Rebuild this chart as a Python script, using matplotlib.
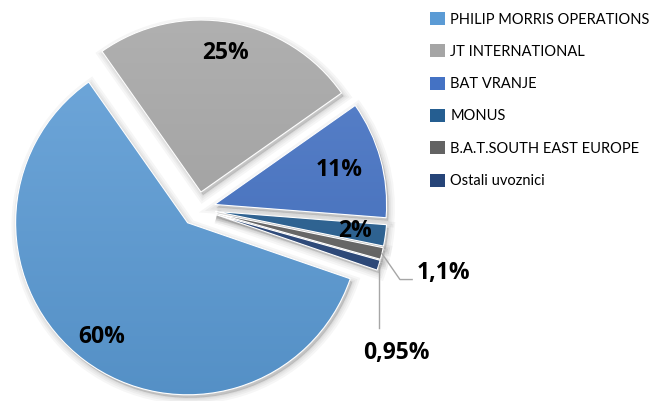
import numpy as np
import matplotlib.pyplot as plt
from matplotlib.colors import to_rgb
from matplotlib.patches import Patch, Wedge

# market share of cigarette producers / importers
companies = ['PHILIP MORRIS OPERATIONS', 'JT INTERNATIONAL', 'BAT VRANJE',
             'MONUS', 'B.A.T.SOUTH EAST EUROPE', 'Ostali uvoznici']
shares = [60, 25, 11, 2, 1.1, 0.95]
colors = ['#5B9BD5', '#A5A5A5', '#4472C4', '#255E91', '#636363', '#264478']

# label placement: radial distance (fraction of radius) for inside labels
inside_dist = [0.83, 0.82, 0.75, 0.82]


def pct_label(v):
    return f"{v:g}".replace('.', ',') + '%'


def shade(c, f):
    c = np.array(to_rgb(c))
    if f > 0:
        return c + (1 - c) * f
    return c * (1 + f)


fig = plt.figure(figsize=(6.59, 4.01), dpi=100)
ax = fig.add_axes([0, 0, 1, 1])

wedges, _ = ax.pie(shares, colors=colors, startangle=-19, counterclock=False,
                   explode=[0.1] * len(shares), radius=1,
                   wedgeprops=dict(edgecolor='white', linewidth=0.8))

# soft shadow + vertical gradient fill for every slice
for w, c in zip(wedges, colors):
    cx, cy = w.center
    r = w.r
    for lw in [9, 6, 3.5, 1.5]:
        ax.add_patch(Wedge((cx + 0.012, cy - 0.018), r, w.theta1, w.theta2,
                           facecolor=(0, 0, 0, 0.035), edgecolor=(0, 0, 0, 0.035),
                           linewidth=lw, zorder=0.5))
    top, bot = shade(c, 0.12), shade(c, -0.07)
    t = np.linspace(0, 1, 128)[:, None]
    grad = (top[None, :] * (1 - t) + bot[None, :] * t)[:, None, :]
    im = ax.imshow(grad, extent=[cx - r, cx + r, cy - r, cy + r], origin='upper',
                   aspect='auto', interpolation='bilinear', zorder=1)
    im.set_clip_path(w)
    w.set_facecolor((0, 0, 0, 0))
    w.set_zorder(2)

lab_font = dict(family='Open Sans', fontweight='bold', fontsize=16.5, color='black')

# labels inside the bigger slices
for w, v, d in zip(wedges[:4], shares[:4], inside_dist):
    mid = np.deg2rad((w.theta1 + w.theta2) / 2)
    cx, cy = w.center
    ax.text(cx + d * np.cos(mid), cy + d * np.sin(mid), pct_label(v),
            ha='center', va='center', zorder=5, **lab_font)


def outer_point(w):
    mid = np.deg2rad((w.theta1 + w.theta2) / 2)
    cx, cy = w.center
    return cx + w.r * np.cos(mid), cy + w.r * np.sin(mid)


# 1,1% with elbow leader
x0, y0 = outer_point(wedges[4])
tx, ty = 1.425, -0.37
ax.plot([x0, 1.174, 1.245], [y0, ty - 0.04, ty - 0.04], color='#A6A6A6', lw=1, zorder=4)
ax.text(tx, ty, pct_label(shares[4]), ha='center', va='center', zorder=5, **lab_font)

# 0,95% with vertical leader
x0, y0 = outer_point(wedges[5])
ax.plot([x0, x0], [y0, -0.69], color='#A6A6A6', lw=1, zorder=4)
ax.text(1.151, -0.835, pct_label(shares[5]), ha='center', va='center', zorder=5, **lab_font)

handles = [Patch(facecolor=c, edgecolor='none') for c in colors]
fig.legend(handles, companies, loc='upper left', bbox_to_anchor=(430 / 659, 1 - 12 / 401),
           frameon=False, prop=dict(family='Lato', size=10.5), handlelength=1.0,
           handleheight=1.0, handletextpad=0.4, labelspacing=1.22, borderpad=0,
           borderaxespad=0)

ax.set_xlim(-1.151, 2.680)
ax.set_ylim(-1.116, 1.215)
ax.set_aspect('equal')
ax.axis('off')

fig.savefig('out.png', dpi=100)
